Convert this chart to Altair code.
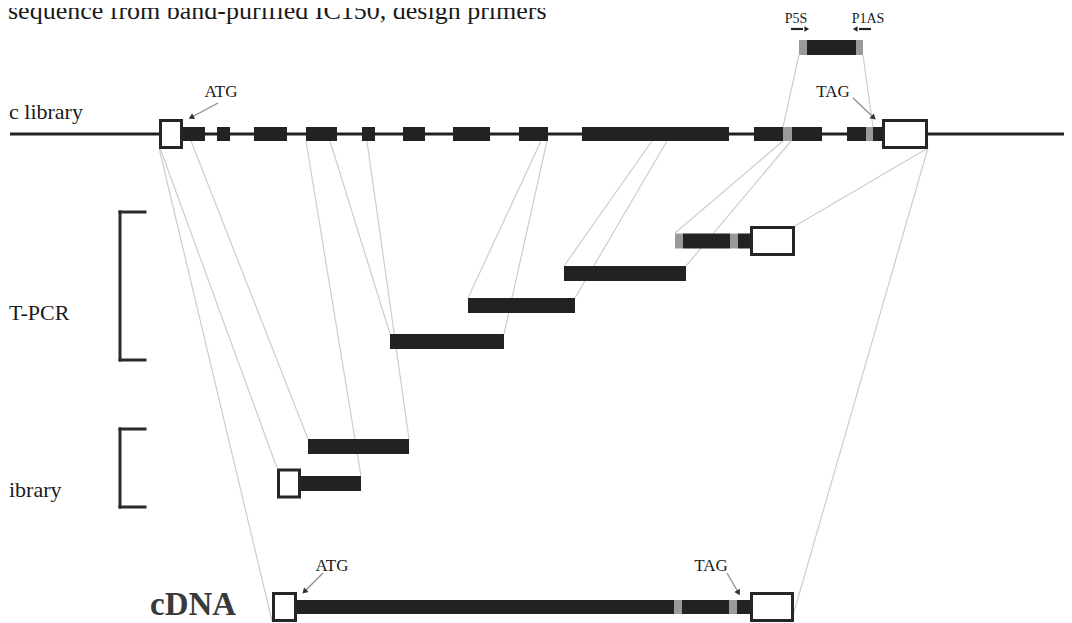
import altair as alt
import pandas as pd

# ---------------- data (diagram coordinates along the gene / vertical track positions) -------------
# genomic track
genomic_line_x = [10, 1070]
genomic_y = 134
exon_start = [183, 217, 254, 306, 362, 403, 453, 519, 582, 754, 847]
exon_end = [205, 230, 287, 337, 375, 425, 490, 548, 729, 822, 883]
genomic_primer_start = [783, 866]
genomic_primer_end = [792, 873]
genomic_utr_start = [159, 882]
genomic_utr_end = [183, 928]

# PCR product designed from primers (top)
primer_frag_black = [807, 856]
primer_frag_gray_start = [799, 856]
primer_frag_gray_end = [807, 863]
primer_frag_y = 47.5

# RT-PCR fragments
rt_start = [390, 468, 564, 683, 738]
rt_end = [504, 575, 686, 730, 750]
rt_y = [341.5, 305.5, 273.5, 241, 241]
rt_gray_start = [675, 730]
rt_gray_end = [683, 738]
rt_gray_y = 241
rt_utr = [750, 795, 241]

# cDNA library fragments
lib_start = [308, 301]
lib_end = [409, 361]
lib_y = [446.5, 483.5]
lib_utr = [277, 301, 483.5]

# full-length cDNA
cdna_start = [297, 682, 737]
cdna_end = [674, 729, 750]
cdna_y = 607
cdna_gray_start = [674, 729]
cdna_gray_end = [682, 737]
cdna_utr_start = [272, 750]
cdna_utr_end = [297, 794]

# connector lines (from -> to)
conn_x1 = [159, 160, 191, 306, 367, 330, 547, 541, 652, 667, 791, 783, 928, 928, 799, 863]
conn_y1 = [148, 148, 141, 141, 141, 141, 141, 141, 141, 141, 141, 141, 148, 148, 55, 55]
conn_x2 = [272, 277, 308, 361, 409, 390, 504, 468, 564, 575, 686, 675, 795, 794, 783, 873]
conn_y2 = [621, 468, 439, 476, 439, 334, 334, 298, 266, 298, 266, 233, 226, 612, 127, 127]

# brackets: x, top, bottom, tick length
bracket_top = [212, 429]
bracket_bottom = [360, 507]
bracket_x = 120
bracket_tick_end = 145

# labels
title_text = "sequence from band-purified IC150, design primers"
side_labels = ["c library", "T-PCR", "ibrary"]
side_label_x = [9, 9, 9]
side_label_y = [119, 320, 497]
site_labels = ["ATG", "TAG", "P5S", "P1AS", "ATG", "TAG"]
site_label_x = [221, 833, 796, 868, 332, 711]
site_label_y = [97, 97, 23, 23, 571, 571]
site_label_size = [17, 17, 14, 14, 17, 17]

# annotation arrows (shaft from -> to, head at end)
arrow_x1 = [218, 853, 323, 727]
arrow_y1 = [103, 98, 573, 573]
arrow_x2 = [192, 873, 305, 738]
arrow_y2 = [117, 117, 591, 592]
arrow_angle = [242, 132, 225, 150]
primer_arrow_x1 = [791, 871]
primer_arrow_x2 = [803, 859]
primer_arrow_head = [806, 856]
primer_arrow_angle = [90, 270]
primer_arrow_y = 29

# ---------------- build tables -------------
BAR_H = 7.5
UTR_H = 15

bars = []
for s, e in zip(exon_start, exon_end):
    bars.append(dict(x=s, x2=e, y=genomic_y - 7, y2=genomic_y + 7))
bars.append(dict(x=primer_frag_black[0], x2=primer_frag_black[1], y=primer_frag_y - BAR_H, y2=primer_frag_y + BAR_H))
for s, e, y in zip(rt_start, rt_end, rt_y):
    bars.append(dict(x=s, x2=e, y=y - BAR_H, y2=y + BAR_H))
for s, e, y in zip(lib_start, lib_end, lib_y):
    bars.append(dict(x=s, x2=e, y=y - BAR_H, y2=y + BAR_H))
for s, e in zip(cdna_start, cdna_end):
    bars.append(dict(x=s, x2=e, y=cdna_y - 7, y2=cdna_y + 7))
bars = pd.DataFrame(bars)

grays = []
for s, e in zip(genomic_primer_start, genomic_primer_end):
    grays.append(dict(x=s, x2=e, y=genomic_y - 7, y2=genomic_y + 7))
for s, e in zip(primer_frag_gray_start, primer_frag_gray_end):
    grays.append(dict(x=s, x2=e, y=primer_frag_y - BAR_H, y2=primer_frag_y + BAR_H))
for s, e in zip(rt_gray_start, rt_gray_end):
    grays.append(dict(x=s, x2=e, y=rt_gray_y - BAR_H, y2=rt_gray_y + BAR_H))
for s, e in zip(cdna_gray_start, cdna_gray_end):
    grays.append(dict(x=s, x2=e, y=cdna_y - 7, y2=cdna_y + 7))
grays = pd.DataFrame(grays)

utrs = []
for s, e in zip(genomic_utr_start, genomic_utr_end):
    utrs.append(dict(x=s + 1.5, x2=e - 1.5, y=genomic_y - UTR_H + 1.5, y2=genomic_y + UTR_H - 1.5))
utrs.append(dict(x=rt_utr[0] + 1.5, x2=rt_utr[1] - 1.5, y=rt_utr[2] - UTR_H + 1.5, y2=rt_utr[2] + UTR_H - 1.5))
utrs.append(dict(x=lib_utr[0] + 1.5, x2=lib_utr[1] - 1.5, y=lib_utr[2] - UTR_H + 1.5, y2=lib_utr[2] + UTR_H - 1.5))
for s, e in zip(cdna_utr_start, cdna_utr_end):
    utrs.append(dict(x=s + 1.5, x2=e - 1.5, y=cdna_y - UTR_H + 1.5, y2=cdna_y + UTR_H - 1.5))
utrs = pd.DataFrame(utrs)

conns = pd.DataFrame(dict(x=conn_x1, y=conn_y1, x2=conn_x2, y2=conn_y2))

brackets = []
for t, b in zip(bracket_top, bracket_bottom):
    brackets.append(dict(x=bracket_x, y=t, x2=bracket_x, y2=b))
    brackets.append(dict(x=bracket_x, y=t, x2=bracket_tick_end, y2=t))
    brackets.append(dict(x=bracket_x, y=b, x2=bracket_tick_end, y2=b))
brackets = pd.DataFrame(brackets)

genomic = pd.DataFrame(dict(x=[genomic_line_x[0]], x2=[genomic_line_x[1]], y=[genomic_y], y2=[genomic_y]))

shafts = pd.DataFrame(dict(x=arrow_x1, y=arrow_y1, x2=arrow_x2, y2=arrow_y2))
heads = pd.DataFrame(dict(x=arrow_x2, y=arrow_y2, angle=arrow_angle))
pshafts = pd.DataFrame(dict(x=primer_arrow_x1, x2=primer_arrow_x2,
                            y=[primer_arrow_y] * 2, y2=[primer_arrow_y] * 2))
pheads = pd.DataFrame(dict(x=primer_arrow_head, y=[primer_arrow_y] * 2, angle=primer_arrow_angle))

title_df = pd.DataFrame(dict(x=[8], y=[19], t=[title_text]))
side_df = pd.DataFrame(dict(x=side_label_x, y=side_label_y, t=side_labels))
site_df = pd.DataFrame(dict(x=site_label_x, y=site_label_y, t=site_labels, s=site_label_size))
cdna_df = pd.DataFrame(dict(x=[150], y=[615], t=["cDNA"]))

# ---------------- chart -------------
xs = alt.Scale(domain=[8, 1064], nice=False, zero=False)
ys = alt.Scale(domain=[8, 623], nice=False, zero=False, reverse=True)
X = alt.X("x:Q", scale=xs, axis=None)
Y = alt.Y("y:Q", scale=ys, axis=None)
FONT = "Liberation Serif"

seg = dict(x=X, y=Y, x2="x2:Q", y2="y2:Q")

layers = [
    alt.Chart(conns).mark_rule(color="#cdcdcd", strokeWidth=1.2).encode(**seg),
    alt.Chart(genomic).mark_rule(color="#222222", strokeWidth=3).encode(**seg),
    alt.Chart(bars).mark_rect(color="#222222").encode(**seg),
    alt.Chart(grays).mark_rect(color="#9a9a9a").encode(**seg),
    alt.Chart(utrs).mark_rect(fill="white", stroke="#262626", strokeWidth=3).encode(**seg),
    alt.Chart(brackets).mark_rule(color="#2a2a2a", strokeWidth=3, strokeCap="square").encode(**seg),
    alt.Chart(shafts).mark_rule(color="#8a8a8a", strokeWidth=1.2).encode(**seg),
    alt.Chart(heads).mark_point(shape="triangle", filled=True, size=40, color="#333333", opacity=1).encode(
        x=X, y=Y, angle=alt.Angle("angle:Q", scale=None)),
    alt.Chart(pshafts).mark_rule(color="#222222", strokeWidth=2.2).encode(**seg),
    alt.Chart(pheads).mark_point(shape="triangle", filled=True, size=30, color="#222222", opacity=1).encode(
        x=X, y=Y, angle=alt.Angle("angle:Q", scale=None)),
    alt.Chart(title_df).mark_text(font=FONT, fontSize=26, align="left", baseline="alphabetic", color="#1a1a1a").encode(
        x=X, y=Y, text="t:N"),
    alt.Chart(side_df).mark_text(font=FONT, fontSize=22, align="left", baseline="alphabetic", color="#1a1a1a").encode(
        x=X, y=Y, text="t:N"),
    alt.Chart(site_df).mark_text(font=FONT, align="center", baseline="alphabetic", color="#1a1a1a").encode(
        x=X, y=Y, text="t:N", size=alt.Size("s:Q", scale=None)),
    alt.Chart(cdna_df).mark_text(font=FONT, fontSize=33, fontWeight="bold", align="left", baseline="alphabetic",
                                 color="#3a3a3a").encode(x=X, y=Y, text="t:N"),
]

chart = alt.layer(*layers).properties(
    width=1056, height=615, padding=0,
    autosize=alt.AutoSizeParams(type="none"),
    background="white",
).configure_view(stroke=None)

chart.save("out.html", embed_options={"renderer": "svg", "actions": False})
